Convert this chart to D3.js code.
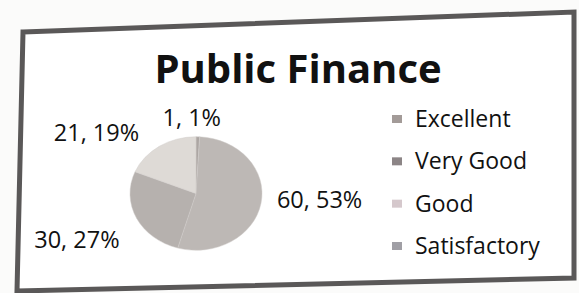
<!DOCTYPE html>
<html>
<head>
<meta charset="utf-8">
<script src="https://cdn.jsdelivr.net/npm/d3@7"></script>
<style>
  body { margin: 0; background: #fbfbfa; }
  svg { display: block; }
</style>
</head>
<body>
<div class="graph"></div>
<script>
// chart data
const categories = ["Excellent", "Very Good", "Good", "Satisfactory"]
const values = [1, 60, 30, 21]
const percents = ["1%", "53%", "27%", "19%"]
const sliceColors = ["#aca6a3", "#bdb8b5", "#b6b1ae", "#dedad6"]
const legendColors = ["#a39b98", "#8c8586", "#d5c8cc", "#a09fa5"]
const title = "Public Finance"

function drawPie() {
    const width = 579, height = 293
    const svg = d3.select(".graph").append("svg")
        .attr("width", width).attr("height", height)

    // photographed frame, a bit skewed
    const frame = [[23, 32], [574, 12], [574, 278], [17, 291]]
    svg.append("path")
        .attr("d", d3.line()(frame) + "Z")
        .attr("fill", "#ffffff")
        .attr("stroke", "#5a5858")
        .attr("stroke-width", 5)
        .attr("stroke-linejoin", "miter")

    svg.append("text")
        .attr("x", 298).attr("y", 83)
        .attr("text-anchor", "middle")
        .attr("font-family", "'Open Sans', sans-serif")
        .attr("font-weight", "bold")
        .attr("font-size", 40)
        .attr("fill", "#111")
        .text(title)

    const r = 66
    const squash = 0.86
    const pie = d3.pie().sort(null).value(d => d)
    const arcs = pie(values)
    const arc = d3.arc().innerRadius(0).outerRadius(r)

    const g = svg.append("g")
        .attr("transform", "translate(196,193.5) scale(1," + squash + ")")

    g.selectAll("path.slice")
        .data(arcs)
        .enter().append("path")
        .attr("class", "slice")
        .attr("d", arc)
        .attr("fill", (d, i) => sliceColors[i])
        .attr("stroke", "#d0ccc9")
        .attr("stroke-width", 0.5)

    // data labels, placed outside the pie
    const labelArc = d3.arc().innerRadius(100).outerRadius(100)
    const labelOffsets = [[-7, 10], [25, -8], [-29, 9], [-44, 11]]
    svg.append("g")
        .attr("transform", "translate(196,193.5)")
        .selectAll("text")
        .data(arcs)
        .enter().append("text")
        .attr("transform", (d, i) => {
            const c = labelArc.centroid(d)
            return "translate(" + (c[0] + labelOffsets[i][0]) + "," + (c[1] * squash + labelOffsets[i][1]) + ")"
        })
        .attr("text-anchor", "middle")
        .attr("dy", "0.35em")
        .attr("font-family", "'Open Sans', sans-serif")
        .attr("font-size", 23.5)
        .attr("fill", "#111")
        .text((d, i) => values[i] + ", " + percents[i])

    // legend
    const ly = d3.scalePoint().domain(categories).range([119, 246])
    const legend = svg.append("g").selectAll("g")
        .data(categories)
        .enter().append("g")
        .attr("transform", d => "translate(392," + ly(d) + ")")

    legend.append("rect")
        .attr("x", 0).attr("y", -4)
        .attr("width", 10).attr("height", 8)
        .attr("fill", (d, i) => legendColors[i])

    legend.append("text")
        .attr("x", 23).attr("dy", "0.35em")
        .attr("font-family", "'Open Sans', sans-serif")
        .attr("font-size", 23)
        .attr("fill", "#111")
        .text(d => d)
}
drawPie()
</script>
</body>
</html>
